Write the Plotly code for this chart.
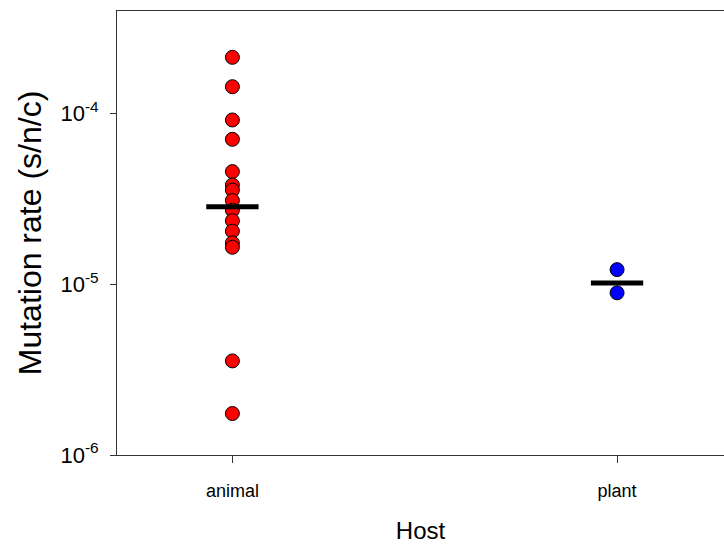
import plotly.graph_objects as go

hosts = ["animal", "plant"]
animal_rates = [2.14e-4, 1.44e-4, 9.19e-5, 7.08e-5, 4.58e-5, 3.82e-5, 3.57e-5,
                3.10e-5, 2.72e-5, 2.36e-5, 2.05e-5, 1.75e-5, 1.65e-5, 3.56e-6, 1.75e-6]
plant_rates = [1.22e-5, 8.92e-6]
medians = [2.85e-5, 1.02e-5]
ytick_vals = [1e-6, 1e-5, 1e-4]
ytick_text = ["10<sup>-6</sup>", "10<sup>-5</sup>", "10<sup>-4</sup>"]

series = [animal_rates, plant_rates]
colors = ["#ff0000", "#0000ff"]

fig = go.Figure()
for i, (vals, col) in enumerate(zip(series, colors)):
    fig.add_trace(go.Scatter(
        x=[i] * len(vals), y=vals, mode="markers",
        marker=dict(size=14, color=col, line=dict(color="black", width=1)),
        showlegend=False, hoverinfo="y"))

hw = 0.068
for i, m in enumerate(medians):
    fig.add_trace(go.Scatter(
        x=[i - hw, i + hw], y=[m, m], mode="lines",
        line=dict(color="black", width=5), showlegend=False, hoverinfo="skip"))

fig.update_layout(
    width=724, height=549,
    margin=dict(l=117, r=0, t=11, b=94),
    paper_bgcolor="white", plot_bgcolor="white",
    font=dict(family="Liberation Sans, Arial, sans-serif", color="black"),
)
fig.update_xaxes(
    range=[-0.3, 1.278], tickvals=[0, 1], ticktext=hosts,
    ticks="outside", ticklen=7, tickcolor="#333", tickwidth=1,
    ticklabelstandoff=12,
    showline=True, linecolor="#333", linewidth=1, mirror=True,
    showgrid=False, zeroline=False,
    tickfont=dict(size=18),
    title=dict(text="Host", font=dict(size=24), standoff=22),
)
fig.update_yaxes(
    type="log", range=[-6, -3.398],
    tickvals=ytick_vals, ticktext=ytick_text,
    ticks="outside", ticklen=6, tickcolor="#333", tickwidth=1,
    ticklabelstandoff=7,
    showline=True, linecolor="#333", linewidth=1, mirror=False,
    showgrid=False, zeroline=False,
    tickfont=dict(size=22),
    title=dict(text="Mutation rate (s/n/c)", font=dict(size=32), standoff=9),
)

fig.write_html("out.html")
